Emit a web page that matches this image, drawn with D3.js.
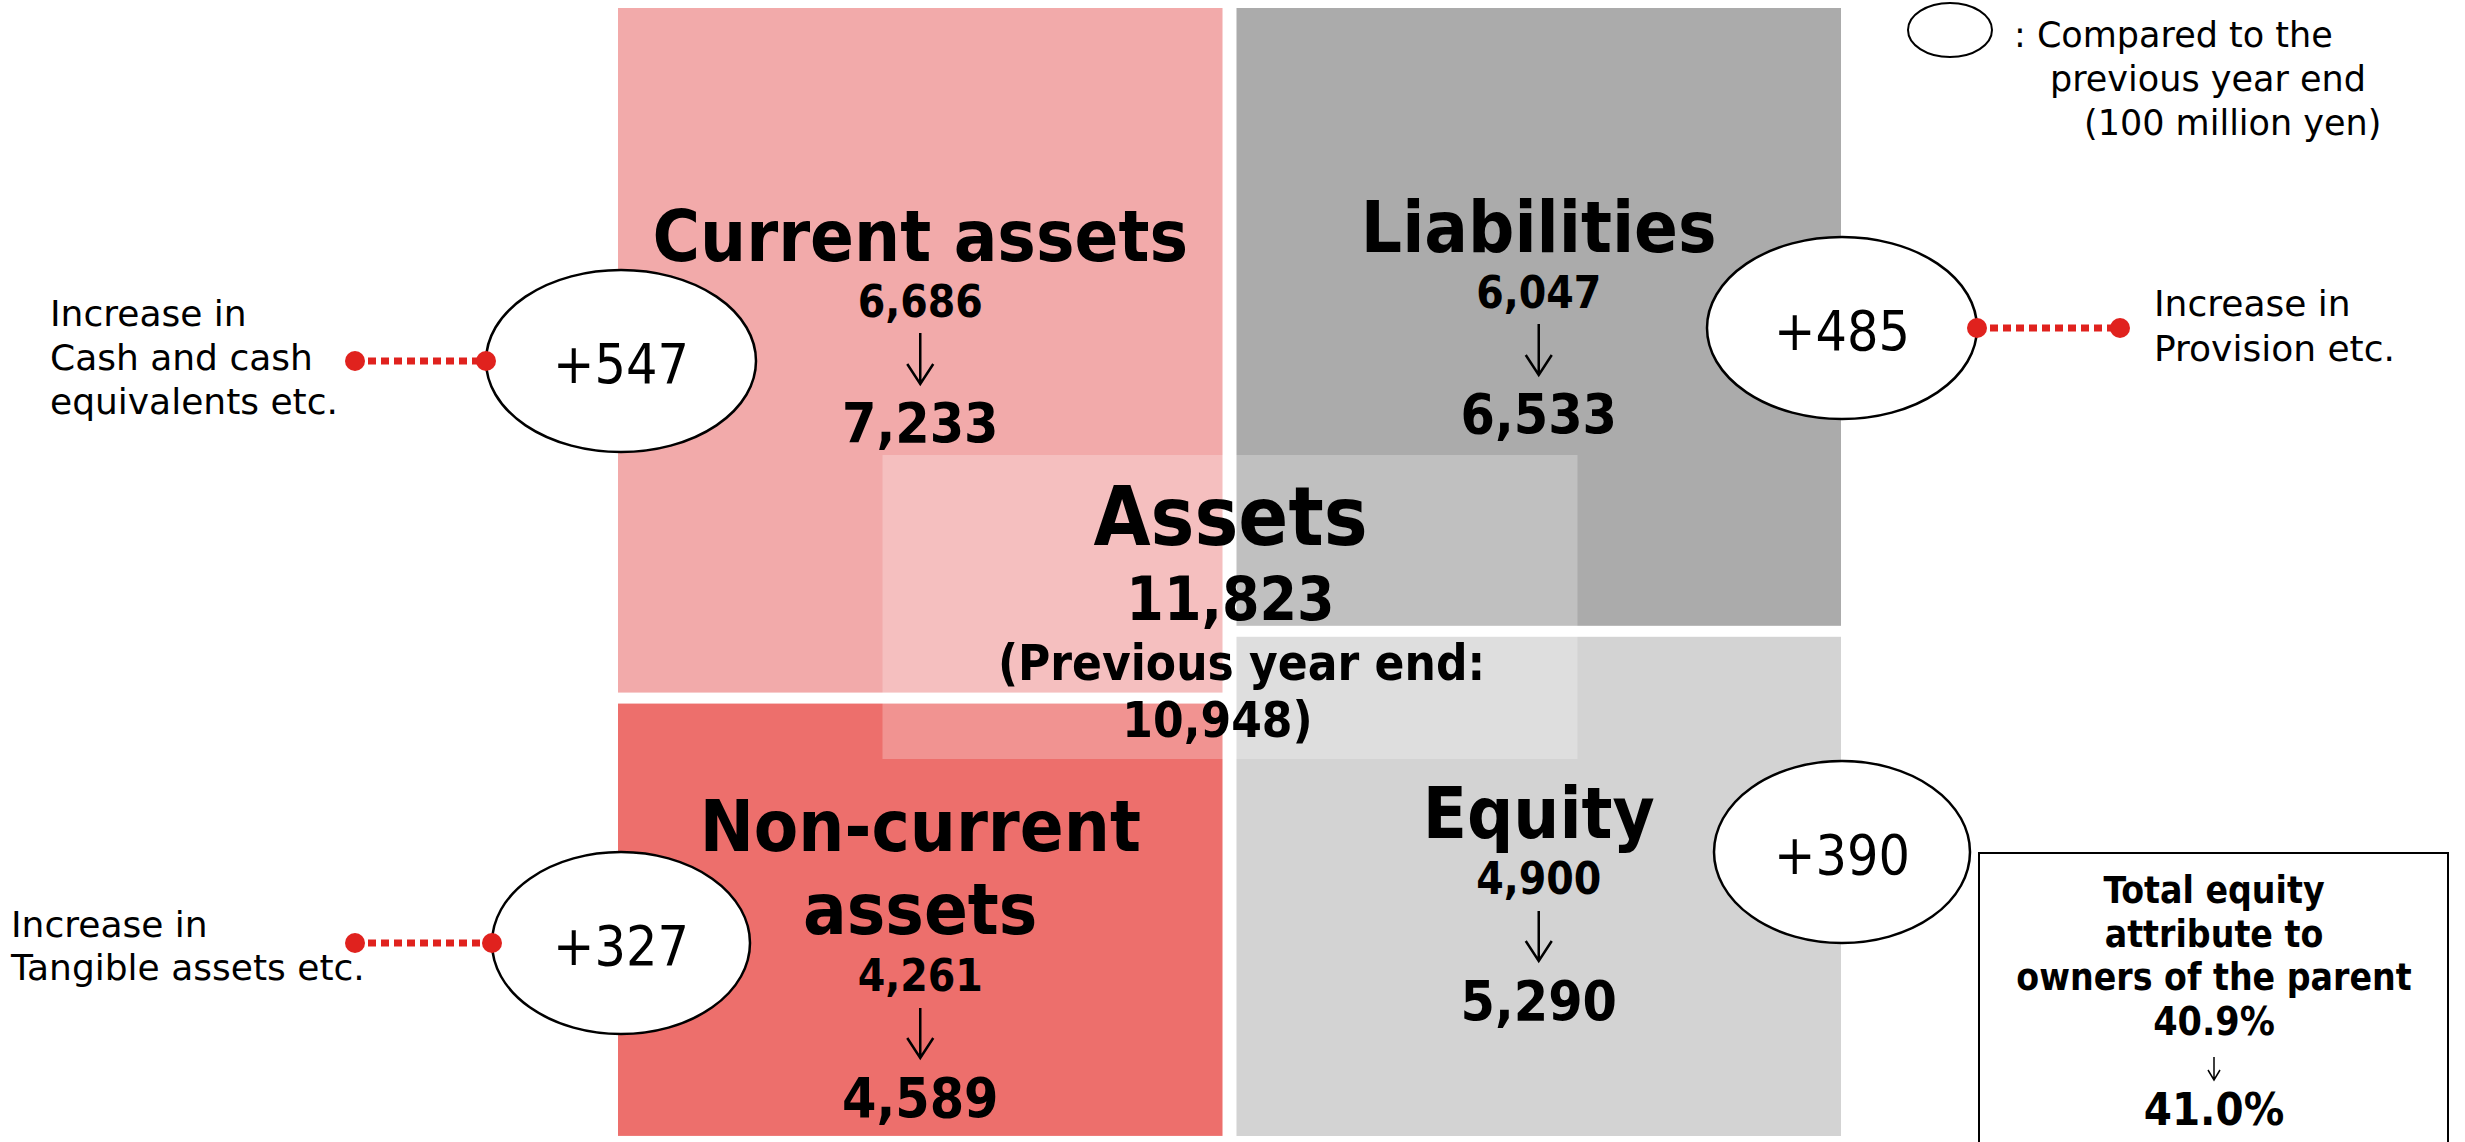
<!DOCTYPE html>
<html>
<head>
<meta charset="utf-8">
<script src="https://cdn.jsdelivr.net/npm/d3@7"></script>
<style>
  body { margin: 0; background: #fff; }
  svg text { font-family: "DejaVu Sans", sans-serif; }
  .cond { font-family: "DejaVu Sans Condensed", "DejaVu Sans", sans-serif; font-stretch: condensed; }
</style>
</head>
<body>
<svg id="canvas"></svg>
<script>
const width = 2465;
const height = 1142;

// values (100 million yen)
const items = ["Current assets", "Non-current assets", "Liabilities", "Equity"];
const sides = ["assets", "claims", "assets", "claims"].slice(0, 4);
const itemSide = ["assets", "assets", "claims", "claims"];
const prevValues = [6686, 4261, 6047, 4900];
const currValues = [7233, 4589, 6533, 5290];
const changes = [547, 327, 485, 390];
const notes = [
  ["Increase in", "Cash and cash", "equivalents etc."],
  ["Increase in", "Tangible assets etc."],
  ["Increase in", "Provision etc."],
  []
];
const totalPrev = 10948;
const totalCurr = 11823;
const ratioPrev = 40.9;
const ratioCurr = 41.0;

const colors = ["#f2aaaa", "#ed6f6c", "#ababab", "#d3d3d3"];
const titleLines = [["Current assets"], ["Non-current", "assets"], ["Liabilities"], ["Equity"]];

// label layout, per item
const layout = [
  { title: [261], prev: 317, arrow: [333, 384], curr: 442, cy: 361, rx: 135, noteX: 50, noteY: 326, noteDy: 44 },
  { title: [851, 934], prev: 991, arrow: [1008, 1058], curr: 1117, cy: 943, rx: 129, noteX: 11, noteY: 937, noteDy: 43 },
  { title: [252], prev: 308, arrow: [324, 375], curr: 433, cy: 328, rx: 135, noteX: 2154, noteY: 316, noteDy: 45 },
  { title: [838], prev: 894, arrow: [911, 961], curr: 1020, cy: 852, rx: 128, noteX: 0, noteY: 0, noteDy: 0 }
];

const fmt = d3.format(",");
let canvas = d3.select("#canvas").attr("width", width).attr("height", height);

const x = d3.scaleBand().domain(["assets", "claims"]).range([618, 1841]).paddingInner(0.0226);
const y = d3.scaleLinear().domain([0, totalCurr]).range([8, 1136]);
const gap = 11;

// stack each side
let data = items.map((name, i) => ({ name, i, side: itemSide[i], prev: prevValues[i], curr: currValues[i], change: changes[i] }));
["assets", "claims"].forEach(side => {
  let acc = 0;
  let rows = data.filter(d => d.side === side);
  rows.forEach((d, k) => {
    d.y0 = y(acc) + (k > 0 ? gap / 2 : 0);
    acc += d.curr;
    d.y1 = y(acc) - (k < rows.length - 1 ? gap / 2 : 0);
  });
});

canvas.append("rect").attr("width", width).attr("height", height).attr("fill", "#fff");

canvas.selectAll("rect.block")
  .data(data)
  .enter()
  .append("rect")
  .attr("class", "block")
  .attr("x", d => x(d.side))
  .attr("y", d => d.y0)
  .attr("width", x.bandwidth())
  .attr("height", d => d.y1 - d.y0)
  .attr("fill", d => colors[d.i]);

// translucent total assets panel
const midX = (x("assets") + x.bandwidth() + x("claims")) / 2;
canvas.append("rect")
  .attr("x", midX - 347)
  .attr("y", 455)
  .attr("width", 695)
  .attr("height", 304)
  .attr("fill", "#fff")
  .attr("fill-opacity", 0.25);

const arrow = (g, cx, top, bottom, head, hw, sw) => {
  g.append("path")
    .attr("d", `M${cx},${top}L${cx},${bottom}M${cx - hw},${bottom - head}L${cx},${bottom}L${cx + hw},${bottom - head}`)
    .attr("fill", "none")
    .attr("stroke", "#000")
    .attr("stroke-width", sw);
};

// block labels
data.forEach(d => {
  const L = layout[d.i];
  const cx = x(d.side) + x.bandwidth() / 2;
  const g = canvas.append("g");
  titleLines[d.i].forEach((t, k) => {
    g.append("text").attr("class", "cond")
      .attr("x", cx).attr("y", L.title[k])
      .attr("text-anchor", "middle")
      .attr("font-weight", "bold").attr("font-size", 72)
      .text(t);
  });
  g.append("text").attr("class", "cond")
    .attr("x", cx).attr("y", L.prev)
    .attr("text-anchor", "middle").attr("font-weight", "bold").attr("font-size", 44)
    .text(fmt(d.prev));
  arrow(g, cx, L.arrow[0], L.arrow[1], 20, 13, 2.5);
  g.append("text").attr("class", "cond")
    .attr("x", cx).attr("y", L.curr)
    .attr("text-anchor", "middle").attr("font-weight", "bold").attr("font-size", 55)
    .text(fmt(d.curr));
});

// centre labels
const centre = canvas.append("g").attr("class", "cond").attr("font-weight", "bold").attr("text-anchor", "middle");
centre.append("text").attr("x", midX + 1).attr("y", 545).attr("font-size", 82).text("Assets");
centre.append("text").attr("x", midX + 1).attr("y", 620).attr("font-size", 60).text(fmt(totalCurr));
centre.append("text").attr("x", midX + 12).attr("y", 680).attr("font-size", 49).text("(Previous year end:");
centre.append("text").attr("x", midX - 12).attr("y", 737).attr("font-size", 49).text(fmt(totalPrev) + ")");

// change bubbles + notes
const red = "#e0221e";
data.forEach(d => {
  const L = layout[d.i];
  const left = d.side === "assets";
  const cx = left ? x(d.side) + 3 : x(d.side) + x.bandwidth() + 1;
  const g = canvas.append("g");
  if (notes[d.i].length) {
    const edge = left ? cx - L.rx : cx + L.rx;
    const far = left ? 355 : 2120;
    g.append("line")
      .attr("x1", Math.min(edge, far)).attr("x2", Math.max(edge, far))
      .attr("y1", L.cy).attr("y2", L.cy)
      .attr("stroke", red).attr("stroke-width", 7)
      .attr("stroke-dasharray", "8,5");
    g.selectAll("circle").data([edge, far]).enter().append("circle")
      .attr("cx", v => v).attr("cy", L.cy).attr("r", 10).attr("fill", red);
    g.append("text")
      .attr("font-size", 36)
      .selectAll("tspan").data(notes[d.i]).enter().append("tspan")
      .attr("x", L.noteX).attr("y", (t, k) => L.noteY + k * L.noteDy)
      .text(t => t);
  }
  g.insert("ellipse", ":first-child")
    .attr("cx", cx).attr("cy", L.cy).attr("rx", L.rx).attr("ry", 91)
    .attr("fill", "#fff").attr("stroke", "#000").attr("stroke-width", 2.5);
  g.append("text").attr("class", "cond")
    .attr("x", cx).attr("y", L.cy + 22)
    .attr("text-anchor", "middle").attr("font-size", 55)
    .text("+" + d.change);
});

// legend
const leg = canvas.append("g");
leg.append("ellipse").attr("cx", 1950).attr("cy", 30).attr("rx", 42).attr("ry", 27)
  .attr("fill", "#fff").attr("stroke", "#000").attr("stroke-width", 2);
const legText = leg.append("text").attr("font-size", 35);
[[": Compared to the", 2014, 47], ["previous year end", 2050, 91], ["(100 million yen)", 2084, 135]].forEach(r => {
  legText.append("tspan").attr("x", r[1]).attr("y", r[2]).text(r[0]);
});

// equity ratio box
const box = canvas.append("g");
box.append("rect").attr("x", 1979).attr("y", 853).attr("width", 469).attr("height", 320)
  .attr("fill", "#fff").attr("stroke", "#000").attr("stroke-width", 2);
const bt = box.append("g").attr("class", "cond").attr("font-weight", "bold").attr("text-anchor", "middle");
[["Total equity", 903], ["attribute to", 947], ["owners of the parent", 990]].forEach(r => {
  bt.append("text").attr("x", 2214).attr("y", r[1]).attr("font-size", 37).text(r[0]);
});
bt.append("text").attr("x", 2214).attr("y", 1035).attr("font-size", 39).text(ratioPrev.toFixed(1) + "%");
arrow(box, 2214, 1057, 1080, 10, 6, 1.5);
bt.append("text").attr("x", 2214).attr("y", 1125).attr("font-size", 45).text(ratioCurr.toFixed(1) + "%");
</script>
</body>
</html>
